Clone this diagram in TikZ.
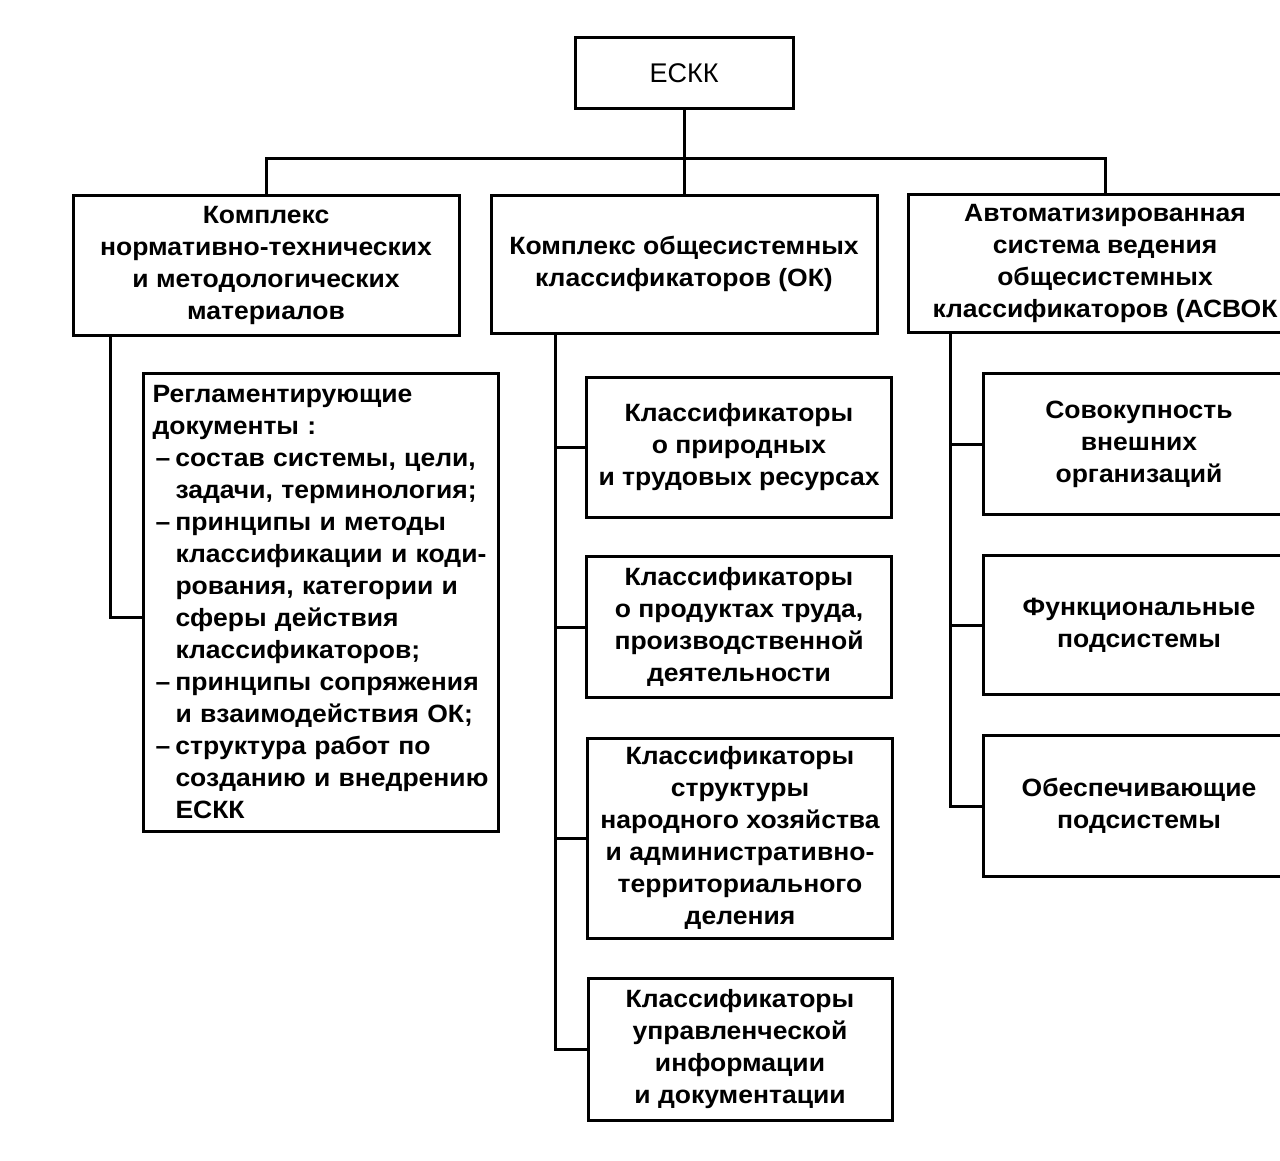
\documentclass[tikz,border=0pt]{standalone}
\usepackage{fontspec}
\setmainfont{Liberation Sans}
\newfontfamily\diafont[FakeStretch=1.06]{Liberation Sans Bold}
\begin{document}
\begin{tikzpicture}[x=1pt,y=-1pt,
  box/.style={draw, line width=3pt, inner sep=0pt, align=center,
    font=\diafont\fontsize{25}{32}\selectfont},
  link/.style={line width=3pt}]
\useasboundingbox (0,0) rectangle (1280,1160);
\fill[white] (0,0) rectangle (1280,1160);
\clip (0,0) rectangle (1280,1160);
% top
\node[box, minimum width=218, minimum height=71,
  font=\fontsize{27}{32}\selectfont] (eskk) at (684,73) {ЕСКК};
% level 1
\node[box, minimum width=386, minimum height=140] (k1) at (266,265)
  {Комплекс\\нормативно-технических\\и методологических\\материалов};
\node[box, minimum width=386, minimum height=138] (k2) at (684,264)
  {Комплекс общесистемных\\классификаторов (ОК)};
\node[box, minimum width=394, minimum height=138] (k3) at (1105,263)
  {Автоматизированная\\система ведения\\общесистемных\\классификаторов (АСВОК};
% left child
\node[box, minimum width=355, minimum height=458, align=left, anchor=north west,
  text width=355, inner sep=0pt] (reg) at (142,372) {\hspace*{9pt}Регламентирующие\\
  \hspace*{9pt}документы :\\
  \hspace*{12pt}\makebox[20pt][l]{–}состав системы, цели,\\
  \hspace*{32pt}задачи, терминология;\\
  \hspace*{12pt}\makebox[20pt][l]{–}принципы и методы\\
  \hspace*{32pt}классификации и коди-\\
  \hspace*{32pt}рования, категории и\\
  \hspace*{32pt}сферы действия\\
  \hspace*{32pt}классификаторов;\\
  \hspace*{12pt}\makebox[20pt][l]{–}принципы сопряжения\\
  \hspace*{32pt}и взаимодействия ОК;\\
  \hspace*{12pt}\makebox[20pt][l]{–}структура работ по\\
  \hspace*{32pt}созданию и внедрению\\
  \hspace*{32pt}ЕСКК};
% middle children
\node[box, minimum width=305, minimum height=140] (c1) at (739,447)
  {Классификаторы\\о природных\\и трудовых ресурсах};
\node[box, minimum width=305, minimum height=141] (c2) at (739,627)
  {Классификаторы\\о продуктах труда,\\производственной\\деятельности};
\node[box, minimum width=305, minimum height=200] (c3) at (740,838)
  {Классификаторы\\структуры\\народного хозяйства\\и административно-\\территориального\\деления};
\node[box, minimum width=304, minimum height=142] (c4) at (740,1049)
  {Классификаторы\\управленческой\\информации\\и документации};
% right children
\node[box, minimum width=312, minimum height=141] (r1) at (1139,444)
  {Совокупность\\внешних\\организаций};
\node[box, minimum width=312, minimum height=139] (r2) at (1139,625)
  {Функциональные\\подсистемы};
\node[box, minimum width=312, minimum height=141] (r3) at (1139,806)
  {Обеспечивающие\\подсистемы};
% connectors
\coordinate (bar) at (684,158);
\draw[link] (eskk.south) -- (k2.north);
\draw[link] (k1.north) |- (bar) -| (k3.north);
\draw[link] (k1.south -| 110,0) |- ([yshift=-15pt]reg.west);
\draw[link] (k2.south -| 555,0) |- (c4.west);
\draw[link] (555,0 |- c1.west) -- (c1.west);
\draw[link] (555,0 |- c2.west) -- (c2.west);
\draw[link] (555,0 |- c3.west) -- (c3.west);
\draw[link] (k3.south -| 950,0) |- (r3.west);
\draw[link] (950,0 |- r1.west) -- (r1.west);
\draw[link] (950,0 |- r2.west) -- (r2.west);
\end{tikzpicture}
\end{document}
